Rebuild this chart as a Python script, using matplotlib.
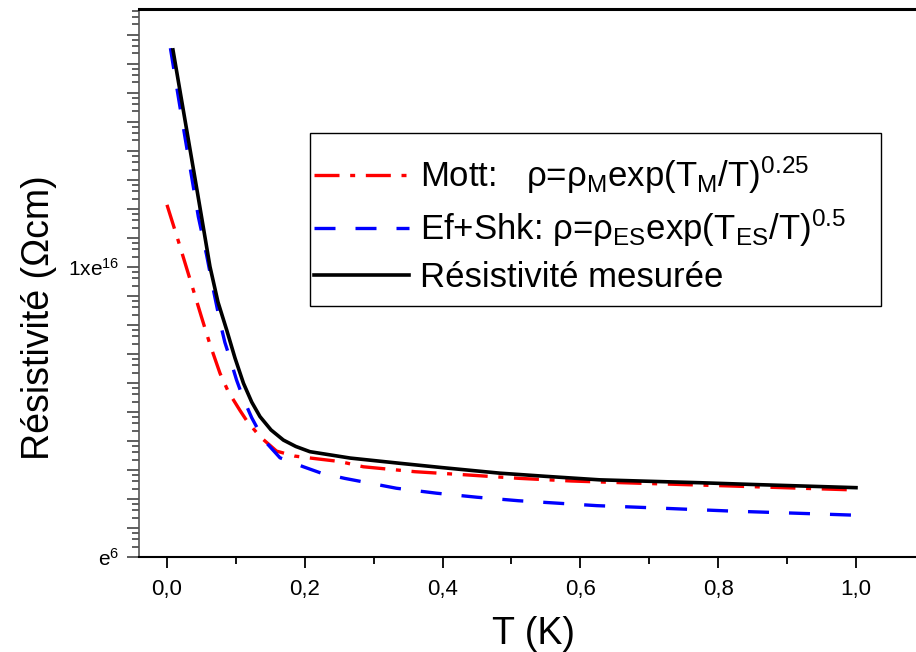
import numpy as np
import matplotlib
matplotlib.use("Agg")
import matplotlib.pyplot as plt
from matplotlib.patches import Rectangle
from matplotlib.ticker import FixedLocator, FuncFormatter, MultipleLocator

plt.rcParams['font.family'] = ['Liberation Sans', 'DejaVu Sans']
plt.rcParams['mathtext.fontset'] = 'custom'
plt.rcParams['mathtext.rm'] = 'Liberation Sans'
plt.rcParams['mathtext.it'] = 'Liberation Sans:italic'

# values, stored as ln(rho)
T_mes = [0.0087, 0.0261, 0.0435, 0.0624, 0.074, 0.0866, 0.0987, 0.111, 0.123,
         0.135, 0.151, 0.169, 0.187, 0.2075, 0.266, 0.338, 0.4, 0.483, 0.55,
         0.628, 0.7, 0.774, 0.85, 1.0]
ln_mes = [23.48, 21.07, 18.66, 16.01, 14.79, 13.83, 12.86, 11.99, 11.34,
          10.84, 10.38, 10.03, 9.81, 9.63, 9.41, 9.23, 9.08, 8.89, 8.78,
          8.66, 8.61, 8.56, 8.5, 8.39]

T_es = [0.005, 0.0164, 0.026, 0.0358, 0.0455, 0.0576, 0.067, 0.077, 0.084, 0.0914,
        0.101, 0.111, 0.123, 0.140, 0.164, 0.198, 0.224, 0.258, 0.3, 0.333, 0.391,
        0.45, 0.51, 0.624, 0.7, 0.822, 0.9, 1.0]
ln_es = [23.54, 21.87, 20.49, 19.11, 17.73, 16.4, 15.25, 14.1, 13.4, 12.85,
         12.1, 11.45, 10.8, 10.05, 9.42, 9.11, 8.89, 8.71, 8.52, 8.37, 8.2,
         8.06, 7.94, 7.77, 7.7, 7.58, 7.52, 7.44]

T_m = [0.0, 0.0164, 0.0286, 0.038, 0.05, 0.0624, 0.077, 0.089, 0.106, 0.1157,
       0.135, 0.159, 0.185, 0.212, 0.251, 0.285, 0.36, 0.435, 0.512, 0.587,
       0.662, 0.815, 1.0]
ln_m = [18.14, 16.9, 15.95, 15.22, 14.28, 13.33, 12.33, 11.7, 11.05, 10.7,
        10.15, 9.65, 9.48, 9.4, 9.29, 9.11, 8.94, 8.83, 8.71, 8.62,
        8.56, 8.45, 8.31]

x_ticks = [0.0, 0.2, 0.4, 0.6, 0.8, 1.0]
y_exps = list(range(6, 25))
y_labels = {6: r'$\mathregular{e^{6}}$', 16: r'$\mathregular{1xe^{16}}$'}

fig = plt.figure(figsize=(9.16, 6.52), dpi=100)
ax = fig.add_axes([139/916, 95/652, 777/916, 548/652])

ax.plot(T_m, np.exp(ln_m), color='red', lw=2.4, dashes=(7.5, 3.2, 1.5, 3.2),
        label=r'Mott:   ρ=ρ$_\mathregular{M}$exp(T$_\mathregular{M}$/T)$^\mathregular{0.25}$')
ax.plot(T_es, np.exp(ln_es), color='blue', lw=2.4, dashes=(6.3, 6.0),
        label=r'Ef+Shk: ρ=ρ$_\mathregular{ES}$exp(T$_\mathregular{ES}$/T)$^\mathregular{0.5}$')
ax.plot(T_mes, np.exp(ln_mes), color='black', lw=2.6, solid_joinstyle='round',
        label='Résistivité mesurée')

ax.set_yscale('log', base=np.e)
ax.set_xlim(-0.0406, 1.0871)
ax.set_ylim(np.exp(6), np.exp(24.89))

ax.yaxis.set_major_locator(FixedLocator(np.exp(y_exps)))
minors = [np.exp(n) * (1 + k * (np.e - 1) / 4) for n in y_exps for k in (1, 2, 3)]
ax.yaxis.set_minor_locator(FixedLocator(minors))
ax.yaxis.set_major_formatter(FuncFormatter(
    lambda v, p: y_labels.get(int(round(np.log(v))), '')))
ax.yaxis.set_minor_formatter(FuncFormatter(lambda v, p: ''))

ax.xaxis.set_major_locator(FixedLocator(x_ticks))
ax.xaxis.set_minor_locator(MultipleLocator(0.1))
ax.xaxis.set_major_formatter(FuncFormatter(lambda v, p: f'{v:.1f}'.replace('.', ',')))

ax.tick_params(axis='y', which='major', direction='out', length=9, width=1.2,
               color='#444444', labelsize=15, pad=5)
ax.tick_params(axis='y', which='minor', direction='out', length=5, width=1.2,
               color='#444444')
ax.tick_params(axis='x', which='major', direction='out', length=8, width=1.3,
               labelsize=16, pad=8)
ax.tick_params(axis='x', which='minor', direction='out', length=5, width=1.3)

ax.spines['right'].set_visible(False)
ax.spines['top'].set_linewidth(2.2)
ax.spines['bottom'].set_linewidth(1.5)
ax.spines['left'].set_linewidth(1.2)
ax.spines['left'].set_color('#555555')

ax.set_xlabel('T (K)', fontsize=27)
ax.set_ylabel('Résistivité (Ωcm)', fontsize=27)
ax.xaxis.set_label_coords(0.508, -0.108)
ax.yaxis.set_label_coords(-0.105, 0.436)

# legend box drawn by hand, legend itself without frame
fig.patches.append(Rectangle((310/916, 1 - 306/652), 571/916, 173/652,
                             transform=fig.transFigure, fill=False,
                             edgecolor='black', lw=1.0))
leg = ax.legend(loc='upper left', bbox_to_anchor=(314/916, 1 - 155/652),
                bbox_transform=fig.transFigure, fontsize=25, frameon=False,
                handlelength=2.75, handletextpad=0.3, borderpad=0,
                labelspacing=0.33, borderaxespad=0)

fig.savefig('out.png', dpi=100)
